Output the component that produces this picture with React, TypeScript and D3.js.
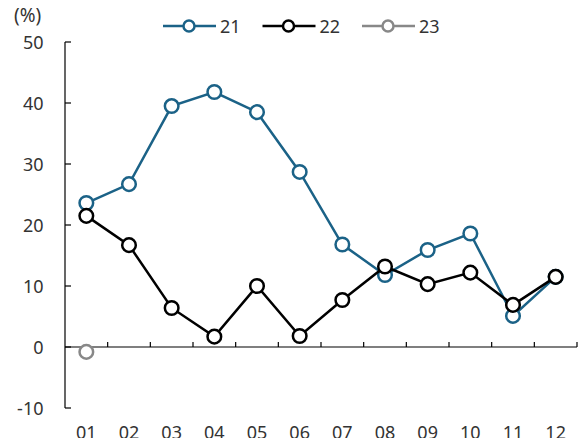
import React from "react";
import * as d3 from "d3";

const months = ["01", "02", "03", "04", "05", "06", "07", "08", "09", "10", "11", "12"];
const s21 = [23.6, 26.7, 39.5, 41.8, 38.5, 28.7, 16.8, 11.8, 15.9, 18.6, 5.1, 11.5];
const s22 = [21.5, 16.7, 6.4, 1.7, 10.0, 1.8, 7.7, 13.2, 10.3, 12.2, 6.9, 11.5];
const s23 = [-0.8];
const seriesNames = ["21", "22", "23"];
const colors = ["#1b6287", "#000000", "#888888"];
const yTicks = [-10, 0, 10, 20, 30, 40, 50];

export default function App() {
  const W = 588, H = 438;
  const left = 65, right = 577, top = 42, bottom = 408;
  const x = d3.scaleBand<string>().domain(months).range([left, right]);
  const y = d3.scaleLinear().domain([-10, 50]).range([bottom, top]);
  const line = d3.line<number>().x((_, i) => (x(months[i]) as number) + x.bandwidth() / 2).y(d => y(d));
  const data = [s21, s22, s23];
  const font = "'Noto Sans', 'Open Sans', sans-serif";
  const legendX = [163, 262.5, 362];
  return (
    <svg width={W} height={H} style={{ position: "absolute", left: 0, top: 0, background: "#fff" }} fontFamily={font}>
      <text x={14} y={22} fontSize={19} fill="#333">(%)</text>
      {seriesNames.map((n, i) => (
        <g key={n}>
          <line x1={legendX[i]} x2={legendX[i] + 53} y1={26} y2={26} stroke={colors[i]} strokeWidth={2.5} />
          <circle cx={legendX[i] + 26} cy={26} r={5.5} fill="#fff" stroke={colors[i]} strokeWidth={2.5} />
          <text x={legendX[i] + 57} y={32.7} fontSize={18} fill="#333">{n}</text>
        </g>
      ))}
      <line x1={left} x2={left} y1={top} y2={bottom} stroke="#000" strokeWidth={1.2} />
      {yTicks.map(t => (
        <g key={t}>
          <line x1={left} x2={left + 6} y1={y(t)} y2={y(t)} stroke="#000" strokeWidth={1.2} />
          <text x={43.5} y={y(t) + 6.5} fontSize={18} fill="#333" textAnchor="end">{t}</text>
        </g>
      ))}
      <line x1={left} x2={right} y1={y(0)} y2={y(0)} stroke="#000" strokeWidth={1.2} />
      {months.map((m, i) => (
        <g key={m}>
          <line x1={(x(m) as number) + x.bandwidth()} x2={(x(m) as number) + x.bandwidth()} y1={y(0)} y2={y(0) - 5} stroke="#000" strokeWidth={1.2} />
          <text x={(x(m) as number) + x.bandwidth() / 2} y={438.5} fontSize={18} fill="#333" textAnchor="middle">{m}</text>
        </g>
      ))}
      {data.map((s, si) => (
        <g key={si}>
          <path d={line(s) || ""} fill="none" stroke={colors[si]} strokeWidth={2.5} />
          {s.map((v, i) => (
            <circle key={i} cx={(x(months[i]) as number) + x.bandwidth() / 2} cy={y(v)} r={6.8} fill="#fff" stroke={colors[si]} strokeWidth={2.5} />
          ))}
        </g>
      ))}
    </svg>
  );
}
